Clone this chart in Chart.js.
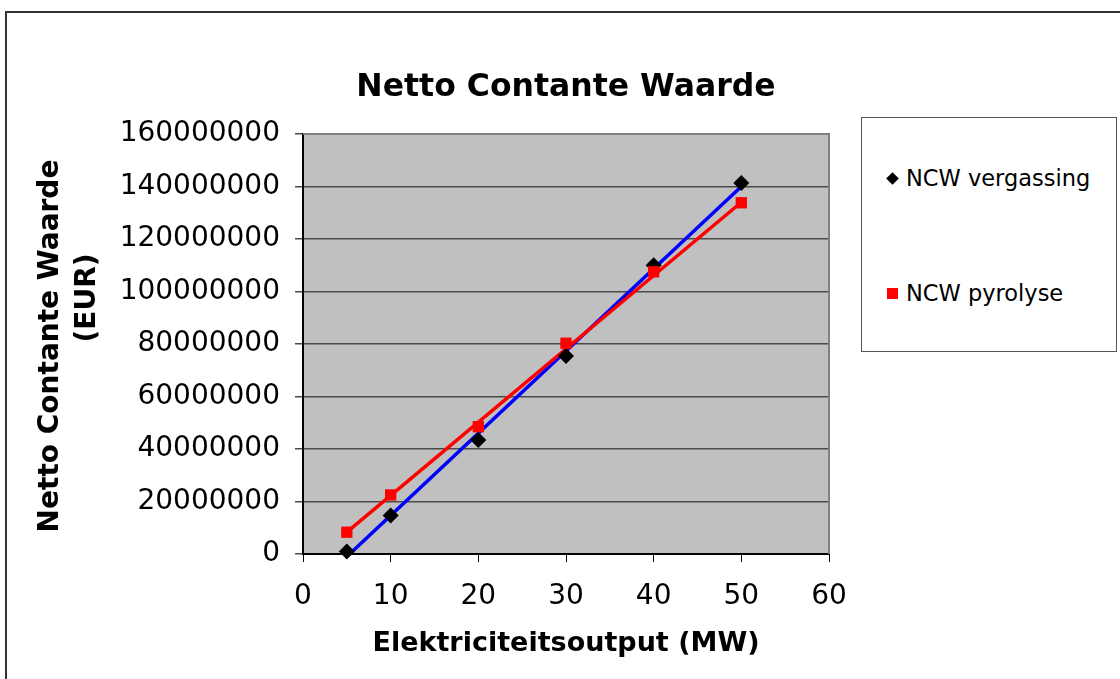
<!DOCTYPE html>
<html lang="nl">
<head>
    <meta charset="UTF-8">
    <title>Netto Contante Waarde</title>
    <script src="https://cdn.jsdelivr.net/npm/chart.js"></script>
    <style>
        body {
            margin: 0;
            background: #fff;
            font-family: "DejaVu Sans", Verdana, sans-serif;
        }
        #wrap {
            position: relative;
            width: 1120px;
            height: 679px;
            overflow: hidden;
        }
        #frame {
            position: absolute;
            left: 5px;
            top: 11px;
            width: 1200px;
            height: 800px;
            border-top: 2px solid #333;
            border-left: 2px solid #333;
        }
        canvas {
            position: absolute;
            left: 0;
            top: 0;
        }
        #legend {
            position: absolute;
            left: 861px;
            top: 117px;
            width: 254px;
            height: 233px;
            border: 1px solid #555;
            background: #fff;
        }
        .item {
            position: absolute;
            left: 25px;
            height: 26px;
            display: flex;
            align-items: center;
            font-size: 22.5px;
            color: #000;
        }
        .marker {
            display: inline-block;
            margin-right: 8px;
        }
        .diamond {
            width: 9px;
            height: 9px;
            background: #000;
            transform: rotate(45deg);
            margin-left: 1px;
            margin-right: 9px;
        }
        .square {
            width: 11px;
            height: 11px;
            background: #ff0000;
        }
    </style>
</head>
<body>
<div id="wrap">
    <div id="frame"></div>
    <canvas id="ncwChart" width="1120" height="679"></canvas>
    <div id="legend">
        <div class="item" style="top:47px"><span class="marker diamond"></span>NCW vergassing</div>
        <div class="item" style="top:162px"><span class="marker square"></span>NCW pyrolyse</div>
    </div>
</div>

<script>
    // Elektriciteitsoutput (MW)
    const outputMW = [5, 10, 20, 30, 40, 50];

    // NCW values (EUR)
    const ncwVergassing = [1000000, 14700000, 43400000, 75400000, 110000000, 141300000];
    const ncwPyrolyse = [8300000, 22500000, 48500000, 80300000, 107500000, 133800000];

    // trendline ends as drawn in the chart
    const trendX = [5, 50];
    const trendVergassing = [-1000000, 140000000];
    const trendPyrolyse = [8300000, 134000000];

    const toPoints = (xs, ys) => xs.map((x, i) => ({ x: x, y: ys[i] }));

    const fontFamily = '"DejaVu Sans", Verdana, sans-serif';

    // grey plot area + grey top/right border like the Excel chart
    const plotArea = {
        id: 'plotArea',
        beforeDraw(chart) {
            const { ctx, chartArea: a } = chart;
            ctx.save();
            ctx.fillStyle = '#c0c0c0';
            ctx.fillRect(a.left, a.top, a.right - a.left, a.bottom - a.top);
            ctx.restore();
        },
        beforeDatasetsDraw(chart) {
            const { ctx, chartArea: a } = chart;
            ctx.save();
            ctx.strokeStyle = '#808080';
            ctx.lineWidth = 2;
            ctx.beginPath();
            ctx.moveTo(a.left, a.top);
            ctx.lineTo(a.right, a.top);
            ctx.lineTo(a.right, a.bottom);
            ctx.stroke();
            ctx.restore();
        }
    };

    // y axis title, two lines, second one sits a bit higher
    function drawRotated(ctx, text, x, y) {
        ctx.save();
        ctx.fillStyle = '#000';
        ctx.font = 'bold 28px ' + fontFamily;
        ctx.textAlign = 'center';
        ctx.textBaseline = 'middle';
        ctx.translate(x, y);
        ctx.rotate(-Math.PI / 2);
        ctx.fillText(text, 0, 0);
        ctx.restore();
    }

    const yTitle = {
        id: 'yTitle',
        afterDraw(chart) {
            drawRotated(chart.ctx, 'Netto Contante Waarde', 51, 346);
            drawRotated(chart.ctx, '(EUR)', 88, 298);
        }
    };

    const config = {
        type: 'scatter',
        data: {
            datasets: [
                {
                    label: 'NCW pyrolyse',
                    data: toPoints(outputMW, ncwPyrolyse),
                    pointStyle: 'rect',
                    pointRadius: 8,
                    pointBackgroundColor: '#ff0000',
                    pointBorderWidth: 0,
                    showLine: false,
                    clip: false,
                    order: 0
                },
                {
                    label: 'NCW vergassing',
                    data: toPoints(outputMW, ncwVergassing),
                    pointStyle: 'rectRot',
                    pointRadius: 8,
                    pointBackgroundColor: '#000000',
                    pointBorderWidth: 0,
                    showLine: false,
                    clip: false,
                    order: 1
                },
                {
                    label: 'trend pyrolyse',
                    data: toPoints(trendX, trendPyrolyse),
                    showLine: true,
                    borderColor: '#ff0000',
                    borderWidth: 3.5,
                    pointRadius: 0,
                    clip: 0,
                    order: 2
                },
                {
                    label: 'trend vergassing',
                    data: toPoints(trendX, trendVergassing),
                    showLine: true,
                    borderColor: '#0000ff',
                    borderWidth: 3.5,
                    pointRadius: 0,
                    clip: 0,
                    order: 3
                }
            ]
        },
        options: {
            responsive: false,
            animation: false,
            layout: {
                padding: { left: 0, top: 0, right: 291, bottom: 0 }
            },
            plugins: {
                legend: { display: false },
                tooltip: { enabled: false },
                title: {
                    display: true,
                    text: 'Netto Contante Waarde',
                    color: '#000',
                    fullSize: false,
                    font: { family: fontFamily, size: 31.5, weight: 'bold' },
                    padding: { top: 69, bottom: 27.2 }
                }
            },
            scales: {
                x: {
                    type: 'linear',
                    min: 0,
                    max: 60,
                    ticks: {
                        stepSize: 10,
                        color: '#000',
                        padding: 18,
                        font: { family: fontFamily, size: 28 }
                    },
                    grid: {
                        drawOnChartArea: false,
                        drawTicks: true,
                        tickLength: 8,
                        color: '#000',
                        lineWidth: 1
                    },
                    border: { color: '#000', width: 2 },
                    title: {
                        display: true,
                        text: 'Elektriciteitsoutput (MW)',
                        color: '#000',
                        font: { family: fontFamily, size: 27, weight: 'bold' },
                        padding: { top: 0, bottom: 19 }
                    },
                    afterFit(scale) { scale.height = 125; }
                },
                y: {
                    min: 0,
                    max: 160000000,
                    ticks: {
                        stepSize: 20000000,
                        color: '#000',
                        padding: 15,
                        font: { family: fontFamily, size: 28 },
                        callback: value => String(value)
                    },
                    grid: {
                        drawTicks: true,
                        tickLength: 8,
                        color: '#4a4a4a',
                        lineWidth: 1.5
                    },
                    border: { color: '#000', width: 2 },
                    afterFit(scale) { scale.width = 303; }
                }
            }
        },
        plugins: [plotArea, yTitle]
    };

    new Chart(document.getElementById('ncwChart').getContext('2d'), config);
</script>
</body>
</html>
